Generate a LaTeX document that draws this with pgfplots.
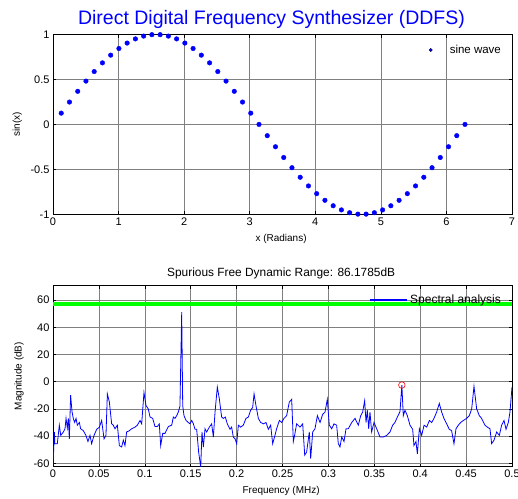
\documentclass[border=0pt]{standalone}
\usepackage{fontspec}
\setmainfont{Liberation Sans}
\usepackage{pgfplots}
\pgfplotsset{compat=1.18}
\usepackage{pgfplotstable}

\definecolor{mblue}{RGB}{0,0,255}
\definecolor{mgreen}{RGB}{0,255,0}
\definecolor{mred}{RGB}{255,0,0}

% 50 samples of one period
\pgfplotstableread{
x y
0.1257 0.1253
0.2513 0.2487
0.3770 0.3681
0.5027 0.4818
0.6283 0.5878
0.7540 0.6845
0.8796 0.7705
1.0053 0.8443
1.1310 0.9048
1.2566 0.9511
1.3823 0.9823
1.5080 0.9980
1.6336 0.9980
1.7593 0.9823
1.8850 0.9511
2.0106 0.9048
2.1363 0.8443
2.2619 0.7705
2.3876 0.6845
2.5133 0.5878
2.6389 0.4818
2.7646 0.3681
2.8903 0.2487
3.0159 0.1253
3.1416 0.0000
3.2673 -0.1253
3.3929 -0.2487
3.5186 -0.3681
3.6442 -0.4818
3.7699 -0.5878
3.8956 -0.6845
4.0212 -0.7705
4.1469 -0.8443
4.2726 -0.9048
4.3982 -0.9511
4.5239 -0.9823
4.6496 -0.9980
4.7752 -0.9980
4.9009 -0.9823
5.0265 -0.9511
5.1522 -0.9048
5.2779 -0.8443
5.4035 -0.7705
5.5292 -0.6845
5.6549 -0.5878
5.7805 -0.4818
5.9062 -0.3681
6.0319 -0.2487
6.1575 -0.1253
6.2832 0.0000
}\sinedata

% spectrum
\pgfplotstableread{
f mag
0.0000 -63
0.0015 -37
0.0020 -45.6
0.0047 -45.6
0.0069 -32
0.0084 -39.5
0.0113 -37
0.0131 -34.6
0.0142 -27
0.0156 -34
0.0167 -27
0.0178 -42
0.0192 -10
0.0207 -22
0.0221 -27
0.0236 -30
0.0251 -27
0.0265 -32
0.0287 -30
0.0301 -34.6
0.0330 -36
0.0359 -39.5
0.0381 -44
0.0403 -39.5
0.0421 -45.6
0.0447 -39.5
0.0476 -35
0.0505 -33.5
0.0530 -28.5
0.0556 -42
0.0577 -39.5
0.0592 -9
0.0614 -15
0.0639 -31
0.0657 -32
0.0675 -34.6
0.0701 -32
0.0723 -47
0.0748 -48
0.0766 -43
0.0784 -47
0.0802 -37
0.0832 -36
0.0857 -34.6
0.0893 -33.4
0.0919 -32
0.0948 -28.5
0.0966 -31
0.0991 -8
0.1013 -17.6
0.1038 -20
0.1057 -26
0.1086 -27
0.1111 -33
0.1137 -33
0.1158 -31
0.1173 -47
0.1195 -38
0.1220 -38
0.1256 -33
0.1293 -32
0.1311 -26
0.1329 -27
0.1347 -25
0.1365 -22.4
0.1383 -18
0.1402 51
0.1413 -17.6
0.1427 -25
0.1449 -28.5
0.1474 -30
0.1492 -31
0.1511 -28.5
0.1529 -31
0.1547 -35
0.1565 -35
0.1587 -52
0.1609 -62.7
0.1623 -37
0.1638 -48
0.1656 -34.6
0.1674 -37
0.1703 -33.4
0.1728 -31
0.1747 -40.7
0.1765 -22.4
0.1790 -4
0.1812 -12.7
0.1837 -26
0.1855 -27
0.1877 -26
0.1899 -31
0.1928 -35
0.1946 -33.4
0.1964 -40.7
0.1983 -42
0.2001 -45.6
0.2019 -32
0.2044 -33.4
0.2073 -32
0.2102 -27
0.2128 -26
0.2153 -21
0.2175 -19
0.2190 -9
0.2211 -17.6
0.2237 -27
0.2262 -30
0.2291 -31
0.2320 -30
0.2346 -35
0.2371 -32
0.2393 -45.6
0.2418 -39.5
0.2436 -34.6
0.2466 -28.5
0.2491 -30
0.2516 -27
0.2545 -25
0.2574 -15
0.2600 -13
0.2618 -44
0.2632 -39.5
0.2654 -31
0.2691 -33.4
0.2720 -31
0.2742 -54
0.2763 -51.7
0.2792 -37
0.2807 -56.6
0.2829 -37
0.2854 -34.6
0.2880 -25
0.2909 -30
0.2938 -24
0.2963 -22.4
0.2988 -13
0.3010 -32
0.3036 -34.6
0.3061 -31
0.3090 -32
0.3108 -45.6
0.3126 -48
0.3145 -40.7
0.3170 -44
0.3192 -34.6
0.3217 -34.6
0.3254 -30
0.3290 -27
0.3326 -32
0.3352 -25
0.3373 -22.4
0.3395 -14
0.3410 -30
0.3424 -21
0.3439 -34.6
0.3453 -22.4
0.3471 -37
0.3497 -30
0.3526 -34.6
0.3562 -40.7
0.3598 -40.7
0.3635 -39.5
0.3671 -37
0.3700 -32
0.3725 -30
0.3751 -26
0.3780 -22
0.3800 -2.5
0.3816 -25
0.3834 -21
0.3860 -25
0.3889 -32
0.3918 -35
0.3932 -47
0.3954 -44
0.3969 -53
0.3991 -34.6
0.4016 -39.5
0.4042 -32
0.4071 -33.4
0.4100 -28.5
0.4125 -30
0.4150 -27
0.4179 -22.4
0.4208 -16
0.4234 -22.4
0.4259 -27
0.4288 -31
0.4317 -35
0.4342 -36
0.4368 -45.6
0.4390 -34.6
0.4415 -32
0.4441 -30
0.4470 -28.5
0.4506 -27
0.4535 -25
0.4561 -20
0.4586 -3.4
0.4615 -20
0.4644 -25
0.4669 -27
0.4706 -32
0.4731 -33.4
0.4760 -34.6
0.4778 -45.6
0.4804 -43
0.4833 -37
0.4862 -39.5
0.4887 -32
0.4913 -28.5
0.4935 -35
0.4960 -30
0.4978 -22.4
0.5000 -4
}\specdata

\pgfplotsset{
  mstyle/.style={
    scale only axis,
    axis line style={black, line width=0.8bp},
    grid=major,
    major grid style={black!50, line width=0.6bp},
    tick align=inside,
    major tick length=3bp,
    tick style={black, line width=0.6bp},
    ticklabel style={font=\fontsize{11bp}{13bp}\selectfont},
    label style={font=\fontsize{12bp}{14bp}\selectfont},
    scaled ticks=false,
    legend cell align=left,
  }
}

\begin{document}
\begin{tikzpicture}
\useasboundingbox (0,0) rectangle (518bp,-499bp);

\node[anchor=base, text=mblue, font=\fontsize{19.5bp}{22bp}\selectfont]
  at (271.5bp,-24.5bp) {Direct Digital Frequency Synthesizer (DDFS)};

% top: sampled sine
\begin{axis}[mstyle,
  at={(53bp,-214.3bp)}, anchor=south west,
  width=459bp, height=179.8bp,
  xmin=0, xmax=7, ymin=-1, ymax=1,
  xtick={0,1,2,3,4,5,6,7},
  xticklabels={0,1,2,3,4,5,6,7},
  ytick={-1,-0.5,0,0.5,1},
  yticklabels={-1,-0.5,0,0.5,1},
  xlabel={x (Radians)},
  ylabel={sin(x)},
  every axis x label/.style={at={(axis description cs:0.497,-0.137)}, anchor=center},
  every axis y label/.style={at={(axis description cs:-0.078,0.5)}, anchor=center, rotate=90},
  legend style={at={(0.978,0.914)}, anchor=east, draw=none, fill=none,
    inner sep=0pt, outer sep=0pt, nodes={inner sep=1bp},
    font=\fontsize{11.5bp}{13bp}\selectfont},
]
\addplot[only marks, mark=*, mark size=2.3bp, mark options={draw=mblue, fill=mblue},
  legend image code/.code={\path[draw=none, fill=none] (0bp,0bp) -- (22bp,0bp);
    \fill[fill=mblue] (4bp,0bp) circle (1.6bp);}]
  table[x=x, y=y] {\sinedata};
\addlegendentry{sine wave}
\end{axis}

% bottom: spectrum
\begin{axis}[mstyle,
  at={(53bp,-466.7bp)}, anchor=south west,
  width=459bp, height=181bp,
  xmin=0, xmax=0.5, ymin=-62.5, ymax=70.5,
  xtick={0,0.05,0.1,0.15,0.2,0.25,0.3,0.35,0.4,0.45,0.5},
  xticklabels={0,0.05,0.1,0.15,0.2,0.25,0.3,0.35,0.4,0.45,0.5},
  ytick={-60,-40,-20,0,20,40,60},
  yticklabels={-60,-40,-20,0,20,40,60},
  xlabel={Frequency (MHz)},
  ylabel={Magnitude (dB)},
  title={Spurious Free Dynamic Range: 86.1785dB},
  every axis title/.style={at={(axis description cs:0.497,1.070)}, anchor=center,
    font=\fontsize{11.9bp}{14bp}\selectfont},
  every axis x label/.style={at={(axis description cs:0.497,-0.134)}, anchor=center},
  every axis y label/.style={at={(axis description cs:-0.074,0.5)}, anchor=center, rotate=90},
  legend style={at={(0.978,0.922)}, anchor=east, draw=none, fill=none,
    inner sep=0pt, outer sep=0pt, nodes={inner sep=1bp},
    font=\fontsize{12bp}{14bp}\selectfont},
]
\addplot[mgreen, line width=4.3bp, forget plot] coordinates {(0,57.0) (0.5,57.0)};
\addplot[color=mblue, line width=0.8bp,
  legend image code/.code={\fill[fill=mblue] (0bp,-0.3bp) rectangle (36bp,0.3bp);
    \path[draw=none, fill=none] (0bp,0bp) -- (39bp,0bp);}]
  table[x=f, y=mag] {\specdata};
\addlegendentry{Spectral analysis}
\addplot[only marks, mark=o, mark size=3.3bp, mark options={draw=mred, line width=0.6bp}, forget plot]
  coordinates {(0.3800,-2.5)};
\end{axis}
\end{tikzpicture}
\end{document}
